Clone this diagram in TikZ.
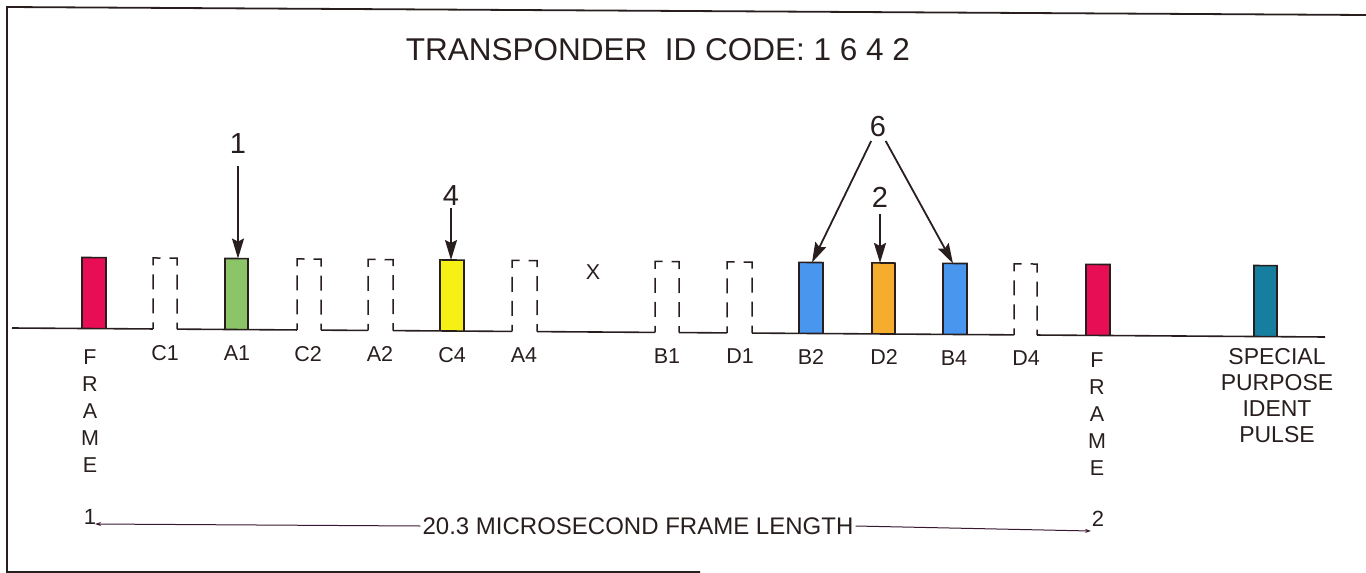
\documentclass[tikz,border=0pt]{standalone}
\usepackage{fontspec}
\setmainfont{Liberation Sans}
\usetikzlibrary{arrows.meta}
\definecolor{ink}{RGB}{40,30,30}
\definecolor{framered}{RGB}{232,14,86}
\definecolor{agreen}{RGB}{140,196,104}
\definecolor{cyellow}{RGB}{246,240,20}
\definecolor{bblue}{RGB}{72,150,238}
\definecolor{dorange}{RGB}{246,172,44}
\definecolor{spiteal}{RGB}{22,126,158}
\begin{document}
\begin{tikzpicture}[x=1pt,y=-1pt,
  declare function={by(\t)=328+0.00685*(\t-12);},
  border/.style={draw=ink,line width=1.8pt},
  baseline seg/.style={draw=ink,line width=1.6pt},
  pulse/.style={draw=ink,line width=1.6pt,line join=miter},
  dpulse/.style={draw=ink,line width=1.5pt,dash pattern=on 15pt off 9pt,dash phase=8.5pt},
  lbl/.style={text=ink,font=\fontsize{21.5}{25}\selectfont,inner sep=0pt,anchor=base},
  vlbl/.style={text=ink,font=\fontsize{21.5}{27}\selectfont,inner sep=0pt,align=center,anchor=north},
  num/.style={text=ink,font=\fontsize{29}{34}\selectfont,inner sep=0pt},
  callout/.style={draw=ink,line width=1.8pt,-{Stealth[length=20pt,width=12pt,inset=3pt]}},
  dim/.style={draw=ink!80!violet,line width=1pt}
]
\useasboundingbox (0,0) rectangle (1366,573);
% border
\draw[border] (1366,15) -- (7,7) -- (7,572) -- (700,572);
% title
\node[text=ink,font=\fontsize{31.5}{36}\selectfont,inner sep=0pt] (title) at (658,50) {TRANSPONDER~ ID CODE: 1 6 4 2};
% solid pulses
\foreach \n/\l/\r/\c in {F1/82/106/framered, A1/225/248/agreen, C4/440/464/cyellow,
  B2/799/823/bblue, D2/872/895/dorange, B4/943/967/bblue, F2/1086/1110/framered, SP/1254/1277/spiteal}{
  \draw[pulse,fill=\c] (\l,{by(\l)}) -- (\l,{by(\l)-71}) -- (\r,{by(\r)-71}) -- (\r,{by(\r)});
  \coordinate (\n) at ({(\l+\r)/2},{by((\l+\r)/2)-71});
}
% absent (dashed) pulses
\foreach \n/\l/\r in {C1/153/177, C2/297/321, A2/368/393, A4/512/537, B1/655/679, D1/727/752, D4/1014/1037}{
  \draw[dpulse] (\l,{by(\l)}) -- (\l,{by(\l)-71}) -- (\r,{by(\r)-71}) -- (\r,{by(\r)});
  \coordinate (\n) at ({(\l+\r)/2},{by((\l+\r)/2)-71});
}
% baseline
\foreach \a/\b in {12/153, 177/297, 321/368, 393/512, 537/655, 679/727, 752/1014, 1037/1325}{
  \draw[baseline seg] (\a,{by(\a)}) -- (\b,{by(\b)});
}
% pulse labels
\foreach \t/\x in {C1/165, A1/237, C2/308, A2/380, C4/452, A4/524, B1/667, D1/740, B2/811, D2/884, B4/954, D4/1026}{
  \node[lbl] (l\t) at (\x,{by(\x)+31}) {\t};
}
\node[lbl,anchor=center] (xmark) at (593,272) {X};
\node[vlbl] (frame1) at (90,350) {F\\R\\A\\M\\E};
\node[vlbl] (frame2) at (1097,353) {F\\R\\A\\M\\E};
\node[vlbl,font=\fontsize{23}{26}\selectfont] (spl) at (1277,348) {SPECIAL\\PURPOSE\\IDENT\\PULSE};
% code digits and arrows
\node[num] (n1) at (238,144) {1};
\node[num] (n4) at (451,196) {4};
\node[num] (n6) at (878,127) {6};
\node[num] (n2) at (880,197) {2};
\coordinate (tA1) at (238,{by(238)-71});
\coordinate (tC4) at (451,{by(451)-71});
\coordinate (tB2) at (812,{by(812)-71});
\coordinate (tB4) at (953,{by(953)-71});
\coordinate (tD2) at (880,{by(880)-71});
\draw[callout,shorten <=12pt] (n1) -- (tA1);
\draw[callout,shorten <=2pt] (n4) -- (tC4);
\draw[callout,shorten <=4pt] (n6) -- (tB2);
\draw[callout,shorten <=4pt] (n6) -- (tB4);
\draw[callout,shorten <=7pt] (n2) -- (tD2);
% frame length dimension
\node[lbl,font=\fontsize{22}{26}\selectfont] (d1lbl) at (90,524) {1};
\node[lbl,font=\fontsize{22}{26}\selectfont] (d2lbl) at (1098,526) {2};
\node[text=ink,font=\fontsize{24}{28}\selectfont,inner sep=2pt] (len) at (638,526) {20.3 MICROSECOND FRAME LENGTH};
\coordinate (d1) at (95,524);
\coordinate (d2) at (1091,531);
\draw[dim,-{Stealth[length=6pt,width=4pt]}] (len.west) -- (d1);
\draw[dim,-{Stealth[length=6pt,width=4pt]}] (len.east) -- (d2);
\end{tikzpicture}
\end{document}
